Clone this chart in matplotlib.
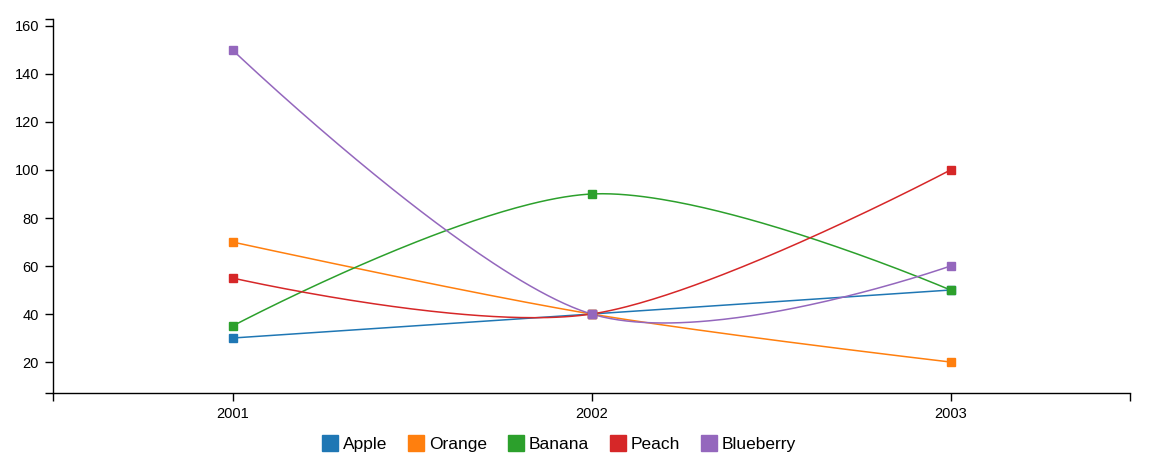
import numpy as np
import matplotlib.pyplot as plt
from matplotlib.lines import Line2D

plt.rcParams['font.family'] = ['Liberation Sans', 'DejaVu Sans']

# data
years = [2001, 2002, 2003]
fruits = ['Apple', 'Orange', 'Banana', 'Peach', 'Blueberry']
apple = [30, 40, 50]
orange = [70, 40, 20]
banana = [35, 90, 50]
peach = [55, 40, 100]
blueberry = [150, 40, 60]
colors = ['#1f77b4', '#ff7f0e', '#2ca02c', '#d62728', '#9467bd']


def cardinal_curve(x, y, n=100, tension=0.0):
    # cardinal spline drawn as bezier segments, ends get a zero-length handle
    p = np.column_stack([np.asarray(x, float), np.asarray(y, float)])
    k = (1 - tension) / 6
    m = len(p)
    pad = np.vstack([p[1], p, p[m - 2]])
    t = np.linspace(0, 1, n)[:, None]
    out = []
    for i in range(m - 1):
        p0, p1 = pad[i + 1], pad[i + 2]
        c1 = p0 + k * (pad[i + 2] - pad[i])
        c2 = p1 + k * (pad[i + 1] - pad[i + 3])
        seg = ((1 - t) ** 3) * p0 + 3 * t * (1 - t) ** 2 * c1 \
            + 3 * t ** 2 * (1 - t) * c2 + t ** 3 * p1
        out.append(seg)
    out = np.vstack(out)
    return out[:, 0], out[:, 1]


fig = plt.figure(figsize=(11.55, 4.66), dpi=100)
ax = fig.add_axes([53 / 1155, 1 - 393 / 466, (1130 - 53) / 1155, (393 - 19) / 466])

series = [apple, orange, banana, peach, blueberry]
for name, vals, col in zip(fruits, series, colors):
    sx, sy = cardinal_curve(years, vals)
    ax.plot(sx, sy, color=col, lw=1.1, zorder=2)
    ax.plot(years, vals, 's', color=col, ms=5.5, zorder=3)

xlo, xhi = 2000.5, 2003.5
ylo, yhi = 7.1, 162.9
ax.set_xlim(xlo, xhi)
ax.set_ylim(ylo, yhi)
ax.set_xticks([xlo] + years + [xhi])
ax.set_xticklabels([''] + [str(y) for y in years] + [''])
yt = list(range(20, 161, 20))
ax.set_yticks([ylo] + yt + [yhi])
ax.set_yticklabels([''] + [str(v) for v in yt] + [''])
ax.tick_params(length=6, width=1.0, labelsize=10.5, pad=4, colors='black')
for s in ['top', 'right']:
    ax.spines[s].set_visible(False)
for s in ['left', 'bottom']:
    ax.spines[s].set_linewidth(1.0)

handles = [Line2D([], [], marker='s', ls='none', color=c, ms=11) for c in colors]
fig.legend(handles, fruits, loc='center', bbox_to_anchor=(0.483, 1 - 444 / 466),
           ncol=5, frameon=False, fontsize=12.5, handletextpad=0.15,
           columnspacing=1.05, handlelength=1.2)

fig.savefig('out.png', dpi=100)
